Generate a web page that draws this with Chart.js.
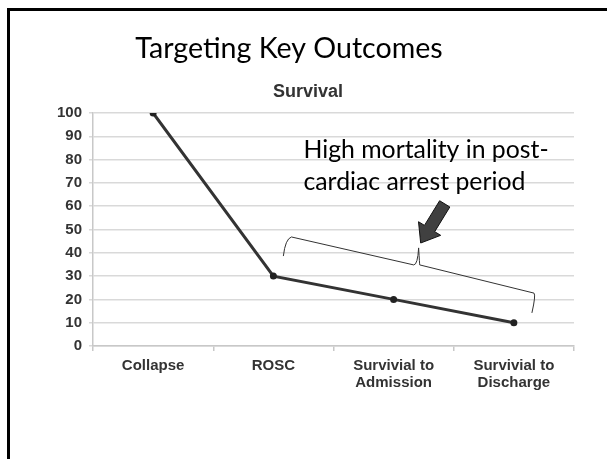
<!DOCTYPE html>
<html>
<head>
<meta charset="utf-8">
<script src="https://cdn.jsdelivr.net/npm/chart.js@4/dist/chart.umd.min.js"></script>
<style>
html,body{margin:0;padding:0;background:#fff;}
canvas{display:block;}
</style>
</head>
<body>
<canvas id="c" width="607" height="459"></canvas>
<script>
// ---- data ----
const categories = ["Collapse", "ROSC", ["Survivial to", "Admission"], ["Survivial to", "Discharge"]];
const survival = [100, 30, 20, 10];
const yTicks = [0, 10, 20, 30, 40, 50, 60, 70, 80, 90, 100];
const slideTitle = "Targeting Key Outcomes";
const chartTitle = "Survival";
const noteLines = ["High mortality in post-", "cardiac arrest period"];

// annotation geometry in data space (x: category index, y: value)
const bracePts = {
  leftEnd: [1.083, 38.6], leftCorner: [1.15, 46.8], midL: [2.167, 34.8],
  tip: [2.208, 42.1], midR: [2.217, 34.8], rightCorner: [3.167, 22.7], rightEnd: [3.15, 14.2]
};
const arrowTail = [2.425, 61.0];
const arrowTip = [2.225, 44.2];
const noteAnchor = [1.25, 80.5];

const decor = {
  id: 'decor',
  beforeDraw(chart) {
    const ctx = chart.ctx;
    ctx.save();
    ctx.fillStyle = '#fff';
    ctx.fillRect(0, 0, chart.width, chart.height);
    ctx.fillStyle = '#000';
    ctx.fillRect(7, 8, 3, chart.height - 8);
    ctx.fillRect(7, 8, chart.width - 7, 3);
    ctx.fillStyle = '#000';
    ctx.textAlign = 'center';
    ctx.textBaseline = 'alphabetic';
    ctx.font = '28.6px Lato';
    ctx.fillText(slideTitle, 289, 58);
    ctx.fillStyle = '#333';
    ctx.font = 'bold 18px "Liberation Sans"';
    ctx.fillText(chartTitle, 308, 97);
    ctx.restore();
  },
  afterDraw(chart) {
    const ctx = chart.ctx;
    const xs = chart.scales.x, ys = chart.scales.y;
    const P = p => [xs.getPixelForValue(p[0]), ys.getPixelForValue(p[1])];
    ctx.save();
    // note text
    const a = P(noteAnchor);
    ctx.fillStyle = '#000';
    ctx.font = '24.8px Lato';
    ctx.textAlign = 'left';
    ctx.textBaseline = 'alphabetic';
    ctx.fillText(noteLines[0], a[0], a[1]);
    ctx.fillText(noteLines[1], a[0], a[1] + 32);
    // brace
    const b = bracePts;
    const le = P(b.leftEnd), lc = P(b.leftCorner), ml = P(b.midL), tp = P(b.tip), mr = P(b.midR), rc = P(b.rightCorner), re = P(b.rightEnd);
    ctx.strokeStyle = '#333';
    ctx.lineWidth = 1;
    ctx.beginPath();
    ctx.moveTo(le[0], le[1]);
    ctx.quadraticCurveTo(le[0] + 2, lc[1] + 2, lc[0], lc[1]);
    ctx.lineTo(ml[0], ml[1]);
    ctx.quadraticCurveTo(tp[0] - 1, ml[1], tp[0], tp[1]);
    ctx.quadraticCurveTo(tp[0] + 1, mr[1], mr[0], mr[1]);
    ctx.lineTo(rc[0], rc[1]);
    ctx.quadraticCurveTo(rc[0] + 2, rc[1] + 2, re[0], re[1]);
    ctx.stroke();
    // arrow
    const t0 = P(arrowTail), t1 = P(arrowTip);
    const dx = t1[0] - t0[0], dy = t1[1] - t0[1];
    const L = Math.hypot(dx, dy), ux = dx / L, uy = dy / L, nx = -uy, ny = ux;
    const sw = 6, hw = 13, hl = 17;
    const hb = [t1[0] - ux * hl, t1[1] - uy * hl];
    ctx.beginPath();
    ctx.moveTo(t0[0] + nx * sw, t0[1] + ny * sw);
    ctx.lineTo(hb[0] + nx * sw, hb[1] + ny * sw);
    ctx.lineTo(hb[0] + nx * hw, hb[1] + ny * hw);
    ctx.lineTo(t1[0], t1[1]);
    ctx.lineTo(hb[0] - nx * hw, hb[1] - ny * hw);
    ctx.lineTo(hb[0] - nx * sw, hb[1] - ny * sw);
    ctx.lineTo(t0[0] - nx * sw, t0[1] - ny * sw);
    ctx.closePath();
    ctx.fillStyle = '#404040';
    ctx.fill();
    ctx.strokeStyle = '#111';
    ctx.lineWidth = 1;
    ctx.stroke();
    ctx.restore();
  }
};

new Chart(document.getElementById('c'), {
  type: 'line',
  data: {
    labels: categories,
    datasets: [{
      label: chartTitle,
      data: survival,
      borderColor: '#333',
      borderWidth: 3,
      pointRadius: 2,
      pointBackgroundColor: '#222',
      pointBorderColor: '#222',
      tension: 0
    }]
  },
  options: {
    responsive: false,
    animation: false,
    devicePixelRatio: 1,
    layout: { padding: { top: 113, right: 33, bottom: 0, left: 0 } },
    plugins: { legend: { display: false }, title: { display: false }, tooltip: { enabled: false } },
    scales: {
      x: {
        offset: true,
        grid: { offset: true, drawOnChartArea: false, drawTicks: true, tickLength: 5, color: '#c8c8c8', lineWidth: 1.5 },
        border: { color: '#c8c8c8', width: 1.5 },
        ticks: { color: '#333', font: { family: 'Liberation Sans', weight: 'bold', size: 15, lineHeight: 1.13 }, padding: 6, maxRotation: 0, autoSkip: false },
        afterFit(s) { s.height = 113; }
      },
      y: {
        min: 0, max: 100,
        afterBuildTicks(s) { s.ticks = yTicks.map(v => ({ value: v })); },
        grid: { color: '#d9d9d9', lineWidth: 1.5, tickLength: 4 },
        border: { color: '#c8c8c8', width: 1.5 },
        ticks: { color: '#333', font: { family: 'Liberation Sans', weight: 'bold', size: 15 }, padding: 7 },
        afterFit(s) { s.width = 93; }
      }
    }
  },
  plugins: [decor]
});
</script>
</body>
</html>
